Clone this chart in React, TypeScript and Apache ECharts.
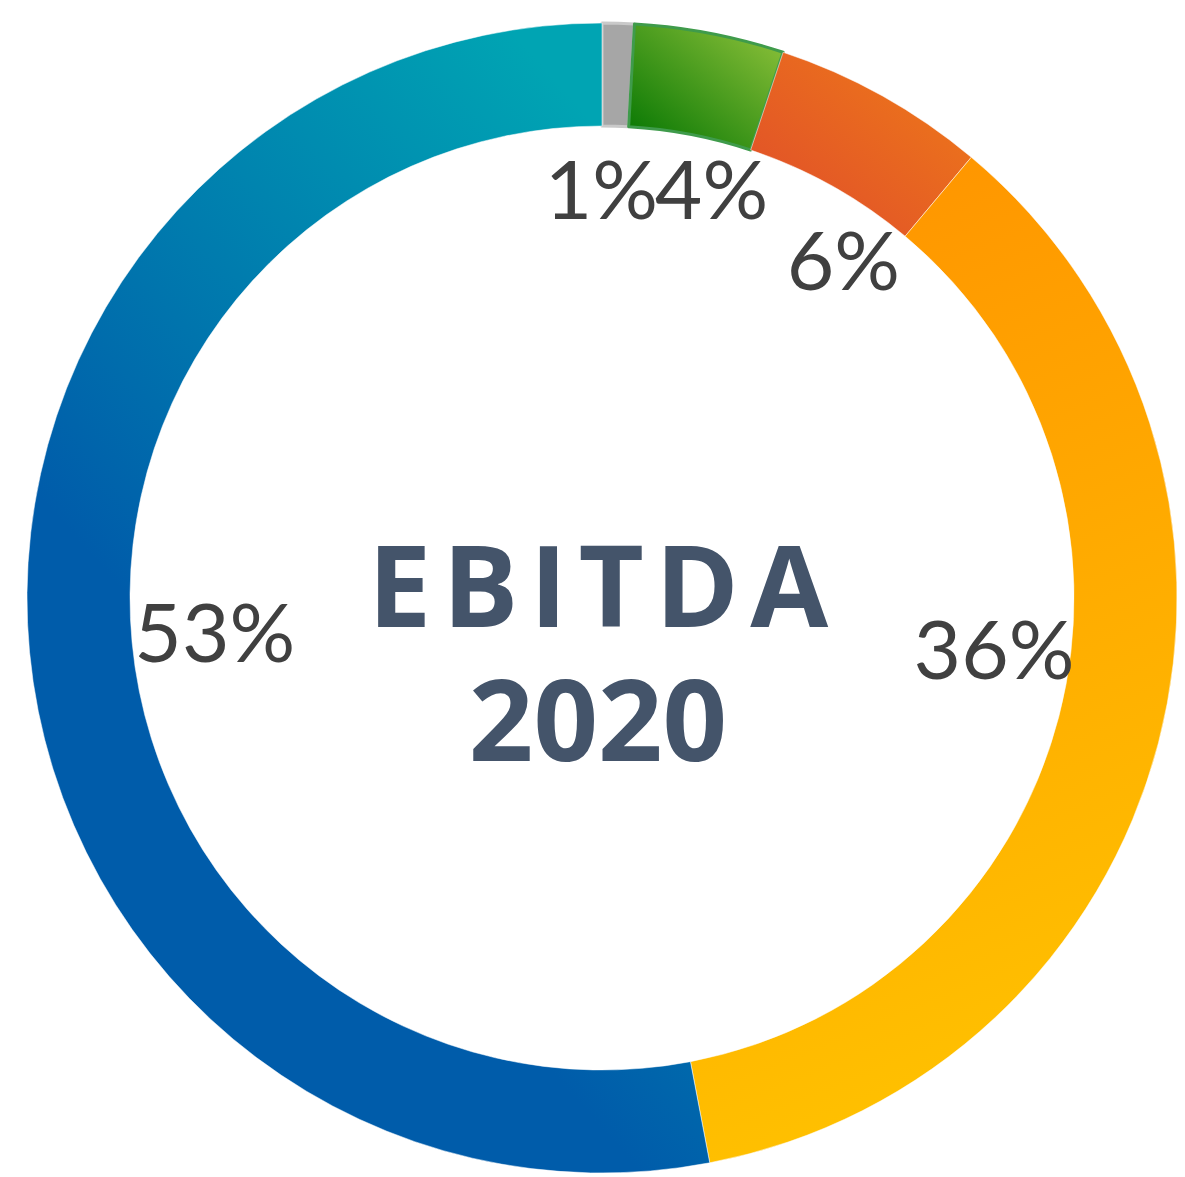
import React, { useEffect, useRef } from "react";
import * as echarts from "echarts";

const categories = ["Otros", "Segmento D", "Segmento C", "Segmento B", "Segmento A"];
const values = [0.9, 4.2, 6.0, 35.9, 53.0];
const centerLines = ["EBITDA", "2020"];

// styling only
const gradients: Array<[number, number, number, number, string, string]> = [
  [0, 0, 0, 1, "#A6A6A6", "#A6A6A6"],
  [1, 0, 0, 1, "#92C43C", "#007300"],
  [1, 0, 0, 1, "#EF7C18", "#DF4B2B"],
  [0.4, 0, 0.6, 1, "#FF9500", "#FFC400"],
  [0.7, 0, 0.3, 0.6, "#00A4B3", "#005CAA"],
];
const borders: Array<[string, number]> = [
  ["#C9C9C9", 3],
  ["#3F9B4B", 3],
  ["rgba(255,255,255,0.5)", 1],
  ["rgba(255,255,255,0.5)", 1],
  ["rgba(255,255,255,0.5)", 1],
];
const labelNudges: Array<[number, number]> = [
  [-12, -8],
  [34, -15],
  [45, 12],
  [2, -52],
  [14, -6],
];

export default function App() {
  const ref = useRef<HTMLDivElement>(null);
  useEffect(() => {
    if (!ref.current) return;
    const chart = echarts.init(ref.current, null, { renderer: "svg" });
    const ringData = categories.map((name, i) => {
      const g = gradients[i];
      return {
        name,
        value: values[i],
        itemStyle: {
          color: new echarts.graphic.LinearGradient(g[0], g[1], g[2], g[3], [
            { offset: 0, color: g[4] },
            { offset: 1, color: g[5] },
          ]),
          borderColor: borders[i][0],
          borderWidth: borders[i][1],
        },
      };
    });
    const labelData = categories.map((name, i) => ({ name, value: values[i] }));
    chart.setOption({
      animation: false,
      backgroundColor: "#ffffff",
      series: [
        {
          type: "pie",
          center: [602, 598],
          radius: [472, 575],
          startAngle: 90,
          clockwise: true,
          silent: true,
          label: { show: false },
          labelLine: { show: false },
          data: ringData,
        },
        {
          type: "pie",
          center: [602, 598],
          radius: [330, 470],
          startAngle: 90,
          clockwise: true,
          silent: true,
          avoidLabelOverlap: false,
          itemStyle: { color: "rgba(0,0,0,0)" },
          label: {
            show: true,
            position: "inside",
            formatter: (p: any) => Math.round(p.value) + "%",
            fontFamily: "Lato",
            fontSize: 82,
            color: "#404040",
          },
          labelLine: { show: false },
          labelLayout: (p: any) => ({
            dx: labelNudges[p.dataIndex][0],
            dy: labelNudges[p.dataIndex][1],
          }),
          data: labelData,
        },
      ],
      graphic: [
        {
          type: "text",
          x: 598,
          y: 650,
          style: {
            text: centerLines[0].split("").join("\u200A") + "\n" + centerLines[1],
            fill: "#44546A",
            fontFamily: "Open Sans",
            fontWeight: "bold",
            fontSize: 113,
            lineHeight: 134,
            textAlign: "center",
            textVerticalAlign: "middle",
          },
        },
      ],
    });
    return () => chart.dispose();
  }, []);
  return (
    <div
      ref={ref}
      style={{ position: "fixed", left: 0, top: 0, width: 1185, height: 1177 }}
    />
  );
}
